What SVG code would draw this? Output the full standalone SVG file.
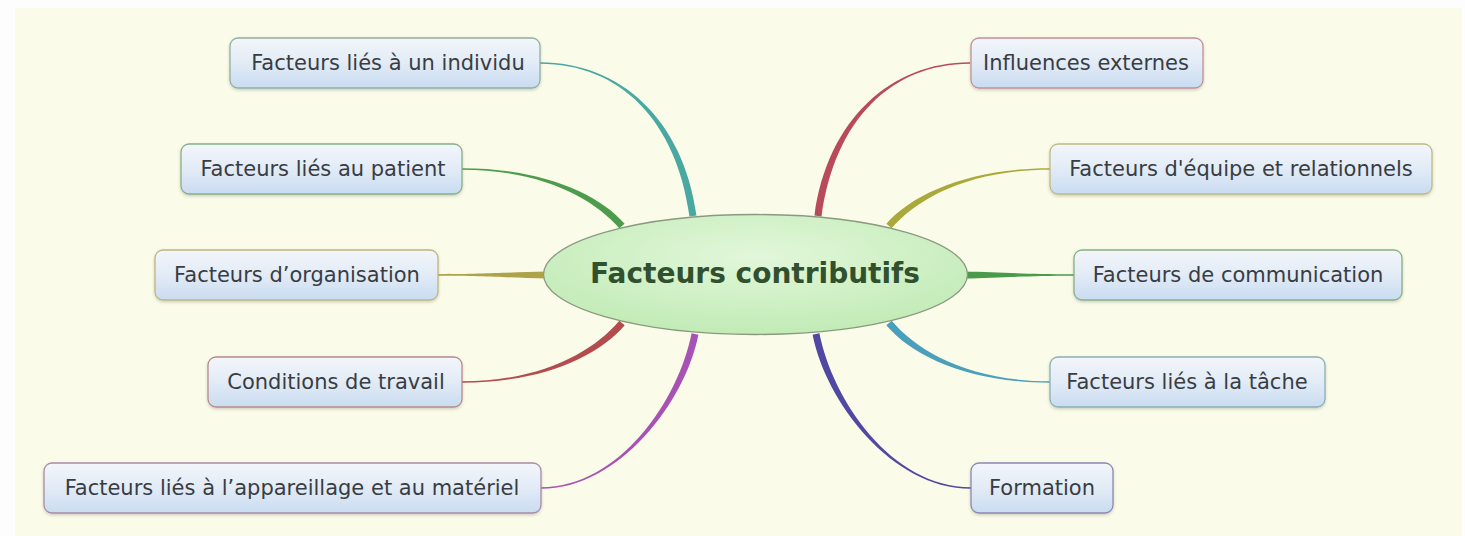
<svg xmlns="http://www.w3.org/2000/svg" width="1465" height="536" viewBox="0 0 1465 536">
<defs>
<linearGradient id="boxg" x1="0" y1="0" x2="0" y2="1">
<stop offset="0" stop-color="#f3f6fb"/>
<stop offset="0.5" stop-color="#e2ebf6"/>
<stop offset="1" stop-color="#c9dcf1"/>
</linearGradient>
<radialGradient id="ellg" cx="0.5" cy="0.35" r="0.7">
<stop offset="0" stop-color="#e2f7da"/>
<stop offset="1" stop-color="#bfeab3"/>
</radialGradient>
<filter id="sh" x="-10%" y="-20%" width="120%" height="150%">
<feDropShadow dx="0" dy="1.5" stdDeviation="1.5" flood-color="#000" flood-opacity="0.18"/>
</filter>
</defs>
<style>
.box{fill:url(#boxg);stroke-width:1.3;filter:url(#sh)}
.lbl{font-family:"DejaVu Sans","Liberation Sans",sans-serif;font-size:21px;fill:#383d43;text-anchor:middle}
.ttl{font-family:"DejaVu Sans","Liberation Sans",sans-serif;font-size:28px;font-weight:bold;fill:#30502e;text-anchor:middle}
</style>
<rect x="0" y="0" width="1465" height="536" fill="#fdfdfd"/>
<rect x="15" y="8" width="1447" height="528" fill="#fafbe8"/>
<g id="connectors">
<path fill="#4aa8a2" d="M540,62.25 C620,62.2 683.5,119.5 696.5,215.5 L689.5,216.5 C676.5,120.5 620,63.8 540,63.75 Z"/>
<path fill="#4d9c4e" d="M462,168.25 C540,168.25 597.6,192.7 624.6,223.7 L619.4,228.3 C592.4,197.3 540,169.75 462,169.75 Z"/>
<path fill="#aea24a" d="M437,274.2 C490,274.2 510,272 548,271.5 L548,278.5 C510,278 490,275.8 437,275.8 Z"/>
<path fill="#b24c4e" d="M462,381.25 C540,381.25 592.3,352.75 619.3,320.75 L624.7,325.25 C597.7,357.25 540,382.75 462,382.75 Z"/>
<path fill="#a752b4" d="M541,487.25 C620,487.25 678.6,399.3 691.6,333.3 L698.4,334.7 C685.4,400.7 620,488.75 541,488.75 Z"/>
<path fill="#b84a5a" d="M970,63.75 C891,63.75 834.5,120.5 821.5,216.5 L814.5,215.5 C827.5,119.5 891,62.25 970,62.25 Z"/>
<path fill="#aaaa3c" d="M1050,169.75 C971,169.75 918.6,197.3 891.6,228.3 L886.4,223.7 C913.4,192.7 971,168.25 1050,168.25 Z"/>
<path fill="#4a9a4c" d="M1074,274.2 C1020,274.2 1000,272 963,271.5 L963,278.5 C1000,278 1020,275.8 1074,275.8 Z"/>
<path fill="#4a9fba" d="M1050,382.75 C971,382.75 913.3,357.25 886.3,325.25 L891.7,320.75 C918.7,352.75 971,381.25 1050,381.25 Z"/>
<path fill="#5048a2" d="M971,488.75 C891,488.75 825.6,400.7 812.6,334.7 L819.4,333.3 C832.4,399.3 891,487.25 971,487.25 Z"/>
</g>
<g id="center">
<ellipse cx="755.5" cy="274.5" rx="212" ry="60" fill="url(#ellg)" stroke="#8a9a80" stroke-width="1.3"/>
<text class="ttl" x="755" y="283">Facteurs contributifs</text>
</g>
<g id="n-individu">
<rect class="box" x="230" y="38" width="310" height="50" rx="8" stroke="#8fb0a4"/>
<text class="lbl" x="388" y="70">Facteurs liés à un individu</text>
</g>
<g id="n-patient">
<rect class="box" x="181" y="144" width="281" height="50" rx="8" stroke="#86b088"/>
<text class="lbl" x="323" y="176">Facteurs liés au patient</text>
</g>
<g id="n-organisation">
<rect class="box" x="155" y="250" width="283" height="50" rx="8" stroke="#bdb67e"/>
<text class="lbl" x="297" y="282">Facteurs d’organisation</text>
</g>
<g id="n-conditions">
<rect class="box" x="208" y="357" width="254" height="50" rx="8" stroke="#b88a8a"/>
<text class="lbl" x="336" y="389">Conditions de travail</text>
</g>
<g id="n-appareillage">
<rect class="box" x="44" y="463" width="497" height="50" rx="8" stroke="#a98aa8"/>
<text class="lbl" x="292" y="495">Facteurs liés à l’appareillage et au matériel</text>
</g>
<g id="n-influences">
<rect class="box" x="971" y="38" width="232" height="50" rx="8" stroke="#c49098"/>
<text class="lbl" x="1086" y="70">Influences externes</text>
</g>
<g id="n-equipe">
<rect class="box" x="1050" y="144" width="382" height="50" rx="8" stroke="#bdbc84"/>
<text class="lbl" x="1241" y="176">Facteurs d'équipe et relationnels</text>
</g>
<g id="n-communication">
<rect class="box" x="1074" y="250" width="328" height="50" rx="8" stroke="#86b088"/>
<text class="lbl" x="1238" y="282">Facteurs de communication</text>
</g>
<g id="n-tache">
<rect class="box" x="1050" y="357" width="275" height="50" rx="8" stroke="#8ab0b4"/>
<text class="lbl" x="1187" y="389">Facteurs liés à la tâche</text>
</g>
<g id="n-formation">
<rect class="box" x="971" y="463" width="142" height="50" rx="8" stroke="#8a88b0"/>
<text class="lbl" x="1042" y="495">Formation</text>
</g>
</svg>
